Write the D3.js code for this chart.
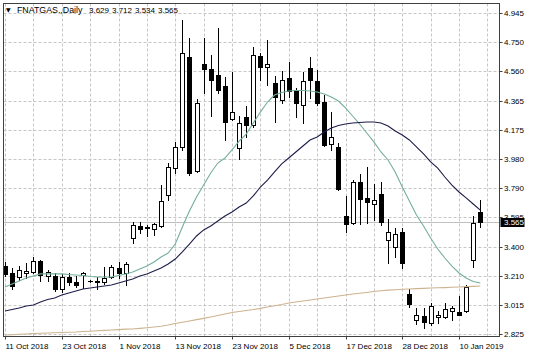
<!DOCTYPE html>
<html><head><meta charset="utf-8">
<script src="https://cdn.jsdelivr.net/npm/d3@7"></script>
<style>
body{margin:0;background:#fff}
svg{display:block}
text{font-family:"Liberation Sans",Arial,sans-serif;fill:#000}
</style>
</head><body>
<svg id="chart" width="536" height="358"></svg>
<script>
// ---- data ----
const symbol = "FNATGAS.,Daily";
const lastBar = ["3.629", "3.712", "3.534", "3.565"];
const dates = ["11 Oct 2018","12 Oct 2018","15 Oct 2018","16 Oct 2018","17 Oct 2018","18 Oct 2018","19 Oct 2018","22 Oct 2018",
 "23 Oct 2018","24 Oct 2018","25 Oct 2018","26 Oct 2018","28 Oct 2018","29 Oct 2018","30 Oct 2018","31 Oct 2018",
 "1 Nov 2018","2 Nov 2018","5 Nov 2018","6 Nov 2018","7 Nov 2018","8 Nov 2018","9 Nov 2018","12 Nov 2018",
 "13 Nov 2018","14 Nov 2018","15 Nov 2018","16 Nov 2018","19 Nov 2018","20 Nov 2018","21 Nov 2018","22 Nov 2018",
 "23 Nov 2018","26 Nov 2018","27 Nov 2018","28 Nov 2018","29 Nov 2018","30 Nov 2018","3 Dec 2018","4 Dec 2018",
 "5 Dec 2018","6 Dec 2018","7 Dec 2018","10 Dec 2018","11 Dec 2018","12 Dec 2018","13 Dec 2018","14 Dec 2018",
 "17 Dec 2018","18 Dec 2018","19 Dec 2018","20 Dec 2018","21 Dec 2018","24 Dec 2018","26 Dec 2018","27 Dec 2018",
 "28 Dec 2018","31 Dec 2018","2 Jan 2019","3 Jan 2019","4 Jan 2019","7 Jan 2019","8 Jan 2019","9 Jan 2019",
 "10 Jan 2019","11 Jan 2019","14 Jan 2019","15 Jan 2019"];
const open = [3.275,3.229,3.203,3.229,3.236,3.308,3.209,3.209,3.124,3.203,
 3.170,3.216,3.178,3.170,3.170,3.203,3.262,3.229,3.460,3.539,
 3.526,3.519,3.539,3.743,3.921,4.060,4.653,3.902,4.607,4.574,
 4.534,4.462,4.244,4.053,4.257,4.205,4.660,4.587,4.482,4.370,
 4.515,4.435,4.337,4.580,4.495,4.356,4.080,4.060,3.605,3.559,
 3.829,3.724,3.684,3.750,3.447,3.401,3.499,3.091,2.919,2.946,
 2.900,2.942,2.939,2.979,2.972,2.979,3.315,3.629];
const high = [3.302,3.262,3.275,3.295,3.335,3.312,3.249,3.229,3.223,3.229,
 3.209,3.236,3.183,3.203,3.269,3.282,3.302,3.302,3.565,3.565,
 3.546,3.559,3.809,3.954,4.093,4.897,4.778,4.376,4.778,4.666,
 4.844,4.521,4.554,4.264,4.330,4.719,4.679,4.765,4.528,4.561,
 4.620,4.449,4.554,4.653,4.567,4.402,4.290,4.086,3.737,3.842,
 3.882,3.928,3.816,3.829,3.585,3.526,3.526,3.124,2.998,2.998,
 3.031,2.979,3.031,3.012,3.078,3.150,3.605,3.712];
const low = [3.209,3.124,3.183,3.196,3.229,3.176,3.176,3.110,3.104,3.150,
 3.137,3.130,3.170,3.124,3.157,3.196,3.196,3.150,3.427,3.493,
 3.473,3.480,3.532,3.710,3.888,4.040,3.875,3.895,4.416,4.264,
 4.416,4.106,4.238,3.981,4.126,4.192,4.501,4.468,4.225,4.350,
 4.389,4.257,4.218,4.383,4.337,4.066,4.040,3.776,3.499,3.552,
 3.552,3.559,3.579,3.546,3.295,3.335,3.262,3.005,2.893,2.867,
 2.886,2.900,2.932,2.919,2.950,2.975,3.269,3.534];
const close = [3.223,3.143,3.249,3.242,3.308,3.216,3.236,3.124,3.203,3.170,
 3.150,3.229,3.176,3.176,3.196,3.269,3.229,3.288,3.546,3.519,
 3.532,3.552,3.704,3.928,4.060,4.679,3.888,4.350,4.574,4.501,
 4.435,4.225,4.290,4.218,4.205,4.666,4.587,4.607,4.389,4.501,
 4.429,4.350,4.495,4.501,4.350,4.073,4.126,3.783,3.552,3.829,
 3.717,3.697,3.710,3.565,3.499,3.486,3.295,3.025,2.952,2.906,
 3.012,2.950,2.992,2.998,2.952,3.137,3.559,3.565];
const maFast = [3.137,3.157,3.176,3.196,3.209,3.223,3.223,3.223,3.223,3.219,
 3.216,3.213,3.206,3.203,3.203,3.203,3.213,3.223,3.236,3.255,
 3.275,3.302,3.335,3.361,3.420,3.532,3.638,3.730,3.809,3.888,
 3.954,3.987,4.040,4.099,4.145,4.218,4.290,4.356,4.402,4.419,
 4.429,4.432,4.432,4.429,4.422,4.409,4.389,4.363,4.317,4.264,
 4.211,4.152,4.093,4.027,3.974,3.895,3.796,3.704,3.611,3.539,
 3.460,3.387,3.328,3.275,3.229,3.196,3.173,3.163];
const maSlow = [2.979,2.988,2.998,3.012,3.018,3.038,3.054,3.064,3.084,3.097,
 3.110,3.124,3.130,3.137,3.143,3.150,3.163,3.176,3.189,3.209,
 3.223,3.242,3.262,3.288,3.321,3.368,3.420,3.473,3.513,3.539,
 3.572,3.605,3.631,3.664,3.690,3.737,3.796,3.842,3.895,3.948,
 3.987,4.027,4.066,4.106,4.126,4.159,4.185,4.201,4.211,4.218,
 4.221,4.224,4.224,4.218,4.198,4.165,4.139,4.106,4.060,4.014,
 3.961,3.921,3.862,3.809,3.763,3.724,3.684,3.644];
const maLong = [2.820,2.822,2.825,2.827,2.830,2.832,2.834,2.835,2.837,2.839,
 2.840,2.843,2.845,2.848,2.851,2.853,2.856,2.859,2.860,2.864,
 2.868,2.873,2.878,2.886,2.896,2.904,2.913,2.922,2.930,2.939,
 2.949,2.959,2.969,2.975,2.982,2.988,2.996,3.005,3.013,3.021,
 3.031,3.038,3.044,3.051,3.058,3.064,3.071,3.077,3.084,3.091,
 3.096,3.101,3.107,3.112,3.116,3.119,3.122,3.124,3.126,3.128,
 3.130,3.132,3.133,3.135,3.137,3.139,3.141,3.143];
const priceTicks = [4.945,4.750,4.560,4.365,4.175,3.980,3.790,3.595,3.400,3.210,3.015,2.825];
const currentPrice = 3.565;
const dateTickIdx = [0,8,16,24,32,40,48,56,64];
const gridIdx = d3.range(0, 69, 4);

// ---- layout ----
const L = 3.5, R = 499.5, T = 3.5, B = 336.5;
const svg = d3.select("#chart");
const x = d3.scaleLinear().domain([0, 67]).range([5, 480.3]);
const y = d3.scaleLinear().domain([2.825, 4.945]).range([334.3, 12.7]);
const cx = i => Math.round(x(i)) + 0.5;
const cy = v => Math.round(y(v)) + 0.5;

svg.append("defs").append("clipPath").attr("id","clip")
  .append("rect").attr("x", L+0.5).attr("y", T+0.5).attr("width", R-L-1).attr("height", B-T-1);

// grid
const grid = svg.append("g").attr("stroke","#c6c6c6").attr("stroke-dasharray","3,2").attr("stroke-width",1);
grid.selectAll("line.h").data(priceTicks).join("line").attr("class","h")
  .attr("x1", L).attr("x2", R).attr("y1", d => cy(d)).attr("y2", d => cy(d));
grid.selectAll("line.v").data(gridIdx.filter(i => x(i) < R)).join("line").attr("class","v")
  .attr("x1", d => cx(d)).attr("x2", d => cx(d)).attr("y1", T).attr("y2", B);

// current price line
svg.append("line").attr("x1", L).attr("x2", R).attr("y1", cy(currentPrice)).attr("y2", cy(currentPrice))
  .attr("stroke","#c0c0c0").attr("stroke-width",1);

const plot = svg.append("g").attr("clip-path","url(#clip)");

// candles
const bars = d3.range(open.length);
const cg = plot.append("g");
cg.selectAll("line.wick").data(bars).join("line").attr("class","wick")
  .attr("x1", cx).attr("x2", cx)
  .attr("y1", i => Math.round(y(high[i]))).attr("y2", i => Math.round(y(low[i])) + 1)
  .attr("stroke","#000").attr("stroke-width",1);
cg.selectAll("rect.body").data(bars).join("rect").attr("class","body")
  .attr("x", i => cx(i) - 2).attr("width", 4)
  .attr("y", i => cy(Math.max(open[i], close[i])))
  .attr("height", i => Math.max(0.01, cy(Math.min(open[i], close[i])) - cy(Math.max(open[i], close[i]))))
  .attr("fill", i => close[i] >= open[i] ? "#fff" : "#000")
  .attr("stroke","#000").attr("stroke-width",1);

// moving averages
const lineGen = arr => d3.line().x((d, i) => x(i)).y(d => y(d))(arr);
plot.append("path").attr("d", lineGen(maLong)).attr("fill","none").attr("stroke","#cdb38f").attr("stroke-width",1.1);
plot.append("path").attr("d", lineGen(maFast)).attr("fill","none").attr("stroke","#74ae9e").attr("stroke-width",1.1);
plot.append("path").attr("d", lineGen(maSlow)).attr("fill","none").attr("stroke","#1d1d4a").attr("stroke-width",1.1);

// frame
svg.append("rect").attr("x", L).attr("y", T).attr("width", R-L).attr("height", B-T)
  .attr("fill","none").attr("stroke","#404040").attr("stroke-width",1);

// price axis
const yAxis = d3.axisRight(y).tickValues(priceTicks).tickSize(3).tickFormat(d3.format(".3f"));
const ya = svg.append("g").attr("transform", `translate(${R},0.5)`).call(yAxis);
ya.select(".domain").remove();
ya.selectAll(".tick line").attr("stroke","#404040");
ya.selectAll(".tick").attr("transform", d => `translate(0,${Math.round(y(d))})`);
ya.selectAll("text").attr("x", 4.5).attr("dy","0.33em").style("font-size","8px").style("font-family","'Liberation Sans',Arial,sans-serif").attr("fill","#000");

// current price badge
svg.append("rect").attr("x", 500.5).attr("y", Math.round(y(currentPrice)) - 4).attr("width", 24).attr("height", 9).attr("fill","#000");
svg.append("text").attr("x", 504).attr("y", Math.round(y(currentPrice)) + 3.2).attr("fill","#fff")
  .style("font-size","8px").style("fill","#fff").text(d3.format(".3f")(currentPrice));

// date axis
const xAxis = d3.axisBottom(x).tickValues(dateTickIdx).tickSize(3).tickFormat(i => dates[i]);
const xa = svg.append("g").attr("transform", `translate(0,${B})`).call(xAxis);
xa.select(".domain").remove();
xa.selectAll(".tick").attr("transform", d => `translate(${cx(d)},0)`);
xa.selectAll(".tick line").attr("stroke","#404040");
xa.selectAll("text").attr("y", 12).attr("dy", 0).attr("x", 0).attr("text-anchor","start")
  .style("font-size","8px").style("font-family","'Liberation Sans',Arial,sans-serif").attr("fill","#000");

// title
const title = svg.append("text").attr("y", 13).style("font-size","8.8px");
title.append("tspan").attr("x", 6).attr("dy", -1).style("font-family","'DejaVu Sans',sans-serif").style("font-size","6px").text("▼");
title.append("tspan").attr("x", 17).attr("dy", 1).text(symbol);
lastBar.forEach((v, k) => title.append("tspan").attr("x", 89 + k * 23).style("font-size","8px").text(v));
</script>
</body></html>
